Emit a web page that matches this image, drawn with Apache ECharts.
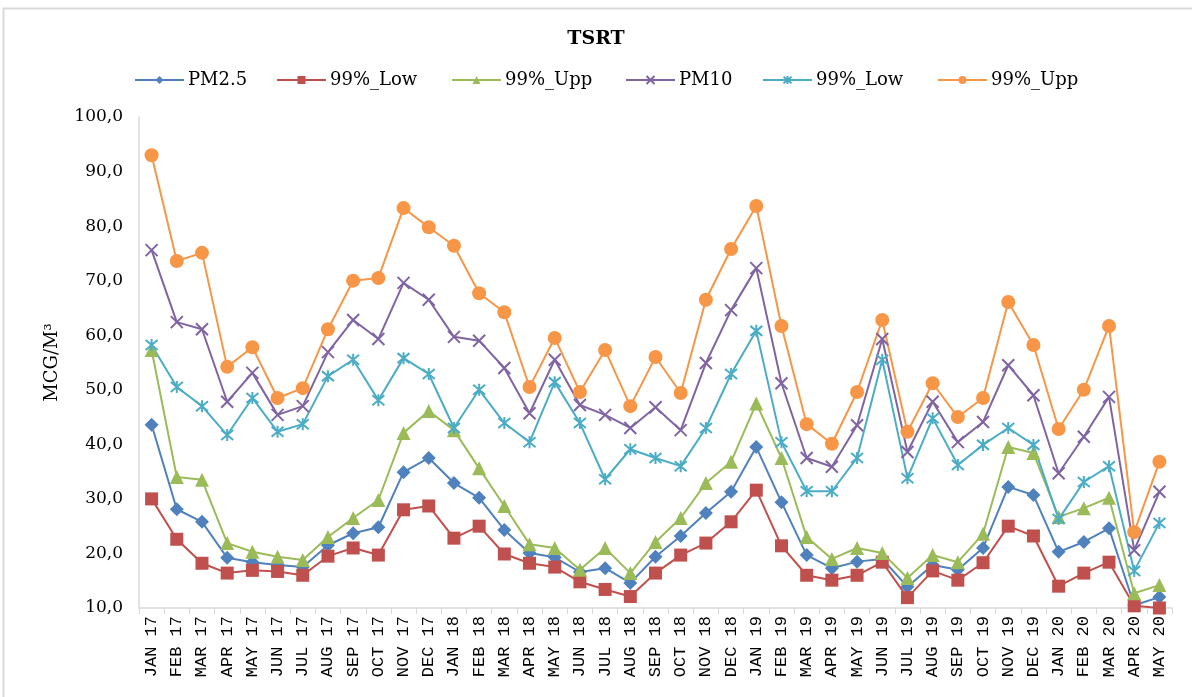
<!DOCTYPE html>
<html>
<head>
<meta charset="utf-8">
<script src="https://cdn.jsdelivr.net/npm/echarts@6/dist/echarts.min.js"></script>
<style>
html,body{margin:0;padding:0;background:#fff;}
#chart{width:1192px;height:697px;}
</style>
</head>
<body>
<div id="chart"></div>
<script>
var categories = ['JAN 17','FEB 17','MAR 17','APR 17','MAY 17','JUN 17','JUL 17','AUG 17','SEP 17','OCT 17','NOV 17','DEC 17',
'JAN 18','FEB 18','MAR 18','APR 18','MAY 18','JUN 18','JUL 18','AUG 18','SEP 18','OCT 18','NOV 18','DEC 18',
'JAN 19','FEB 19','MAR 19','APR 19','MAY 19','JUN 19','JUL 19','AUG 19','SEP 19','OCT 19','NOV 19','DEC 19',
'JAN 20','FEB 20','MAR 20','APR 20','MAY 20'];

var pm25 = [43.6,28.1,25.8,19.2,18.4,17.9,17.5,21.5,23.7,24.8,34.9,37.5,32.9,30.2,24.3,20.1,19.3,16.6,17.3,14.6,19.4,23.2,27.4,31.3,39.5,29.4,19.7,17.3,18.5,19.0,13.9,17.9,17.0,21.0,32.2,30.7,20.3,22.1,24.6,10.5,12.0];
var pm25Low = [30.0,22.6,18.2,16.4,16.9,16.7,16.0,19.5,21.0,19.7,28.0,28.7,22.8,25.0,19.9,18.2,17.5,14.8,13.4,12.1,16.4,19.7,21.9,25.8,31.6,21.4,16.0,15.1,16.0,18.4,11.9,16.8,15.1,18.3,25.0,23.2,14.0,16.4,18.4,10.4,10.0];
var pm25Upp = [57.3,34.0,33.5,21.9,20.3,19.4,18.8,23.0,26.5,29.8,42.1,46.1,42.6,35.6,28.7,21.7,21.0,17.0,21.0,16.4,22.1,26.5,32.9,36.8,47.5,37.5,23.0,19.0,21.0,20.1,15.5,19.7,18.4,23.6,39.5,38.4,26.7,28.3,30.2,12.7,14.2];
var pm10 = [75.6,62.4,61.1,47.8,53.1,45.4,47.0,56.9,62.8,59.3,69.6,66.5,59.7,59.0,54.0,45.7,55.5,47.2,45.4,43.0,46.8,42.6,54.9,64.6,72.3,51.2,37.5,35.9,43.5,59.3,38.6,47.8,40.4,44.1,54.5,49.0,34.7,41.4,48.7,20.6,31.3];
var pm10Low = [58.2,50.5,47.0,41.7,48.5,42.3,43.7,52.5,55.5,48.1,55.8,52.9,43.0,50.0,43.9,40.4,51.4,43.9,33.6,39.1,37.5,36.0,43.0,52.9,60.8,40.4,31.4,31.4,37.5,55.5,33.8,44.8,36.2,39.9,43.0,39.9,26.3,33.1,36.0,16.8,25.6];
var pm10Upp = [93.0,73.6,75.1,54.2,57.8,48.5,50.3,61.1,70.0,70.5,83.3,79.8,76.4,67.7,64.2,50.5,59.5,49.6,57.3,47.0,56.0,49.4,66.5,75.8,83.7,61.7,43.7,40.1,49.6,62.8,42.3,51.2,45.0,48.5,66.1,58.2,42.8,50.0,61.7,23.9,36.8];

var seriesNames = ['PM2.5','99%_Low','99%_Upp','PM10','99%_Low ','99%_Upp '];
var yTicks = {min:10, max:100, interval:10};

var xSym = 'path://M0,0L10,10M10,0L0,10';
var starSym = 'path://M0,0L10,10M10,0L0,10M5,-1L5,11';

function mk(name, data, color, symbol, size, stroke) {
  var s = {
    name: name, type: 'line', data: data,
    symbol: symbol, symbolSize: size,
    lineStyle: {color: color, width: 2},
    itemStyle: {color: color},
    emphasis: {disabled: true},
    z: 2
  };
  if (stroke) {
    s.itemStyle = {color: color, borderColor: color, borderWidth: 2};
  }
  return s;
}

var legendLefts = [134, 276, 451, 625, 762, 937];
var legends = seriesNames.map(function (n, i) {
  return {
    data: [n], left: legendLefts[i], top: 71, padding: 0,
    itemWidth: 49, itemHeight: 10, itemGap: 0,
    formatter: function (t) { return t.trim(); },
    textStyle: {fontFamily: 'DejaVu Serif', fontSize: 18, color: '#000', padding: [0, 0, 0, -1]}
  };
});

var chart = echarts.init(document.getElementById('chart'), null, {renderer: 'canvas'});
chart.setOption({
  animation: false,
  backgroundColor: '#fff',
  color: ['#4F81BD','#C0504D','#9BBB59','#8064A2','#4BACC6','#F79646'],
  graphic: [{
    type: 'rect', shape: {x: 3.5, y: 8.5, width: 1200, height: 700},
    style: {fill: 'none', stroke: '#d9d9d9', lineWidth: 2}, silent: true
  }],
  title: {
    text: 'TSRT', left: 'center', top: 25,
    textStyle: {fontFamily: 'DejaVu Serif', fontWeight: 'bold', fontSize: 19, color: '#000'}
  },
  legend: legends,
  grid: {left: 139, right: 20, top: 117, bottom: 89},
  xAxis: {
    type: 'category', data: categories, boundaryGap: true,
    axisLine: {lineStyle: {color: '#d9d9d9', width: 1.5}},
    axisTick: {show: true, length: 6, lineStyle: {color: '#d9d9d9'}},
    axisLabel: {rotate: 90, interval: 0, fontFamily: 'Liberation Mono', fontSize: 17, color: '#000', margin: 8},
    splitLine: {show: false}
  },
  yAxis: {
    type: 'value', min: yTicks.min, max: yTicks.max, interval: yTicks.interval,
    name: 'MCG/M³', nameLocation: 'middle', nameGap: 78, nameRotate: 90,
    nameTextStyle: {fontFamily: 'DejaVu Serif', fontSize: 18, color: '#000'},
    axisLine: {show: true, lineStyle: {color: '#d9d9d9', width: 1.5}},
    axisTick: {show: false},
    splitLine: {show: false},
    axisLabel: {
      fontFamily: 'DejaVu Serif', fontSize: 17, color: '#000', margin: 16,
      formatter: function (v) { return v.toFixed(1).replace('.', ','); }
    }
  },
  series: [
    mk(seriesNames[0], pm25, '#4F81BD', 'diamond', 14),
    mk(seriesNames[1], pm25Low, '#C0504D', 'rect', 13),
    mk(seriesNames[2], pm25Upp, '#9BBB59', 'triangle', 14),
    mk(seriesNames[3], pm10, '#8064A2', xSym, 12, true),
    mk(seriesNames[4], pm10Low, '#4BACC6', starSym, 12, true),
    mk(seriesNames[5], pm10Upp, '#F79646', 'circle', 14)
  ]
});
</script>
</body>
</html>
